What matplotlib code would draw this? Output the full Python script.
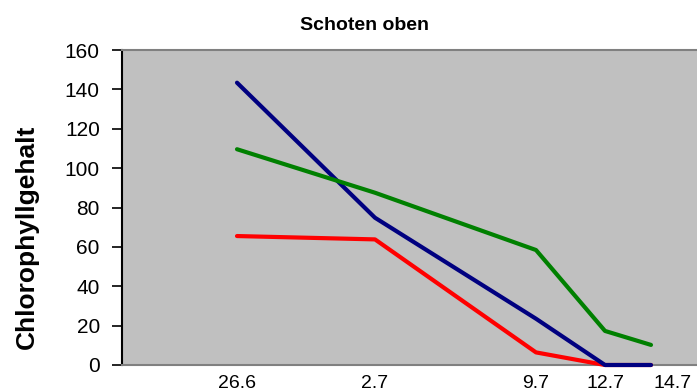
import matplotlib
matplotlib.use("Agg")
from matplotlib import pyplot as plt
from matplotlib import transforms

# sampling dates (day.month) and days since first sampling
dates = ["26.6", "2.7", "9.7", "12.7", "14.7"]
days = [0, 6, 13, 16, 18]

blue = [143.4, 74.8, 23.5, 0, 0]
green = [109.6, 87.5, 58.4, 17.3, 10.2]
red = [65.5, 63.8, 6.4, 0, 0]


def main():
    plt.rcParams['font.family'] = ['Liberation Sans', 'DejaVu Sans']

    fig = plt.figure(figsize=(6.97, 3.92), dpi=100)
    ax = fig.add_axes([122 / 697, 27 / 392, 1 - 122 / 697, 315 / 392])
    ax.set_facecolor('#c0c0c0')

    for ys, col in [(red, '#ff0000'), (blue, '#000080'), (green, '#008000')]:
        ax.plot(days, ys, color=col, lw=3, solid_capstyle='round',
                solid_joinstyle='round', clip_on=False, zorder=3)

    ax.set_xlim(-5, 20)
    ax.set_ylim(0, 160)
    ax.set_yticks(range(0, 161, 20))
    ax.set_xticks(days)
    ax.set_xticklabels(dates)

    ax.tick_params(axis='y', direction='out', length=7, width=1.2,
                   labelsize=15, pad=9, color='black')
    ax.tick_params(axis='x', length=0, labelsize=14, pad=7)

    # excel pushed the last date label a bit to the right
    last = ax.get_xticklabels()[-1]
    last.set_transform(last.get_transform() + transforms.ScaledTranslation(
        0.22, 0, fig.dpi_scale_trans))

    ax.spines['left'].set_color('black')
    ax.spines['left'].set_linewidth(1.5)
    ax.spines['bottom'].set_color('#808080')
    ax.spines['bottom'].set_linewidth(1.5)
    ax.spines['top'].set_color('#808080')
    ax.spines['top'].set_linewidth(1.5)
    ax.spines['right'].set_visible(False)

    fig.text(365 / 697, 1 - 25 / 392, "Schoten oben", ha='center',
             va='center', fontsize=14, fontweight='bold')
    fig.text(27 / 697, 1 - 237 / 392, "Chlorophyllgehalt", ha='center',
             va='center', rotation=90, fontsize=19, fontweight='bold')

    fig.savefig("out.png", dpi=100)


if __name__ == "__main__":
    main()
